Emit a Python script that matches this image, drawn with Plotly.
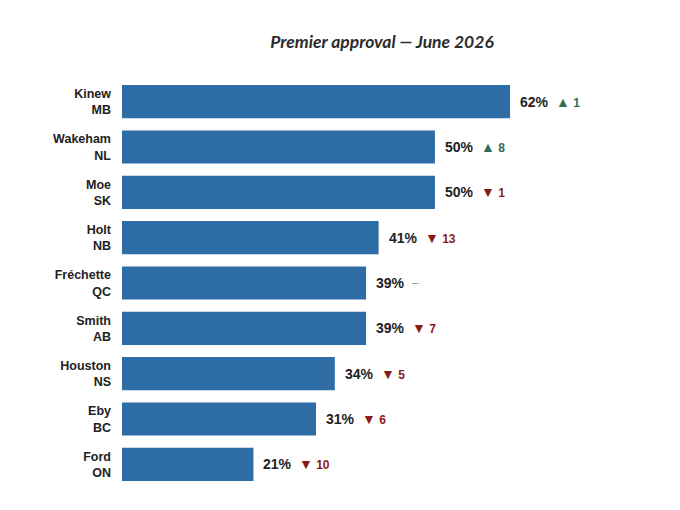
import plotly.graph_objects as go

# premier approval, top to bottom as shown
premiers = ["Kinew", "Wakeham", "Moe", "Holt", "Fréchette", "Smith", "Houston", "Eby", "Ford"]
provinces = ["MB", "NL", "SK", "NB", "QC", "AB", "NS", "BC", "ON"]
approval = [62, 50, 50, 41, 39, 39, 34, 31, 21]
change = [1, 8, -1, -13, 0, -7, -5, -6, -10]

labels = [f"<b>{n}<br>{p}</b>" for n, p in zip(premiers, provinces)]

fig = go.Figure()
fig.add_trace(go.Bar(
    x=approval, y=labels, orientation="h",
    marker=dict(color="#2e6ca5", line=dict(width=0)),
    width=0.73, hoverinfo="skip",
))

for lab, val, ch in zip(labels, approval, change):
    fig.add_annotation(x=val, y=lab, text=f"<b>{val}%</b>", showarrow=False,
                       xanchor="left", xshift=8,
                       font=dict(family="Liberation Sans, Arial", size=14, color="#222"))
    if ch > 0:
        txt, col = f"<span style='font-size:14px'>▲</span><b> {ch}</b>", "#2d6e50"
    elif ch < 0:
        txt, col = f"<span style='font-size:14px'>▼</span><b> {abs(ch)}</b>", "#8a1a1a"
    else:
        txt, col = "–", "#999999"
    fig.add_annotation(x=val, y=lab, text=txt, showarrow=False,
                       xanchor="left", xshift=44,
                       font=dict(family="Liberation Sans, Arial", size=12, color=col))

fig.update_layout(
    width=680, height=510,
    margin=dict(l=114, r=34, t=71, b=31),
    plot_bgcolor="white", paper_bgcolor="white",
    showlegend=False,
    title=dict(text="<b><i>Premier approval — June 2026</i></b>",
               x=0.55, xanchor="center", y=0.933, yanchor="middle",
               automargin=False,
               font=dict(family="Lato, Open Sans", size=17.5, color="#2b2b2b", weight="bold")),
    xaxis=dict(range=[0, 85], visible=False, automargin=False),
    yaxis=dict(autorange="reversed", showgrid=False, zeroline=False,
               ticks="", ticklabelstandoff=10, automargin=False,
               tickfont=dict(family="Liberation Sans, Arial", size=12.5, color="#222")),
)

fig.write_html("out.html")
